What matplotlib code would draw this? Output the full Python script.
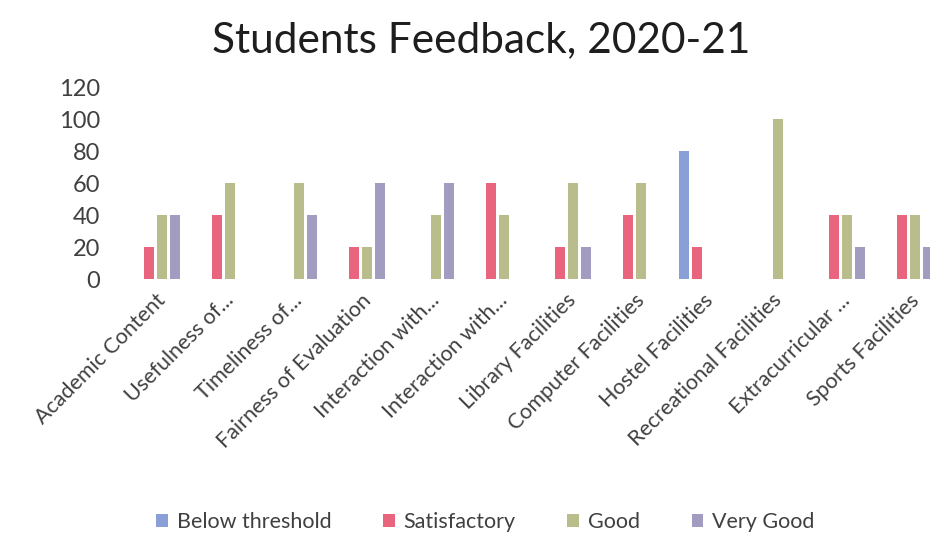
import matplotlib
matplotlib.use('Agg')
import matplotlib.pyplot as plt
import numpy as np

# ==========================================================================
#  Dati
categories = ['Academic Content', 'Usefulness of...', 'Timeliness of...',
              'Fairness of Evaluation', 'Interaction with...', 'Interaction with...',
              'Library Facilities', 'Computer Facilities', 'Hostel Facilities',
              'Recreational Facilities', 'Extracurricular ...', 'Sports Facilities']
below_threshold = [0, 0, 0, 0, 0, 0, 0, 0, 80, 0, 0, 0]
satisfactory    = [20, 40, 0, 20, 0, 60, 20, 40, 20, 0, 40, 40]
good            = [40, 60, 60, 20, 40, 40, 60, 60, 0, 100, 40, 40]
very_good       = [40, 0, 40, 60, 60, 0, 20, 0, 0, 0, 20, 20]
series_names = ['Below threshold', 'Satisfactory', 'Good', 'Very Good']
yticks = [0, 20, 40, 60, 80, 100, 120]

colors = ['#8a9fd6', '#e8657d', '#b8bd8b', '#a29cc0']
plt.rcParams['font.family'] = ['Lato', 'DejaVu Sans']

# ==========================================================================
fig = plt.figure(figsize=(9.3, 5.42), dpi=100)
# l'area del grafico esce un po' a destra (come nel riferimento)
ax = fig.add_axes([121/930, 1-279/542, 822/930, 192/542])

x = np.arange(len(categories))
slot = 0.19
width = 0.14
all_series = [below_threshold, satisfactory, good, very_good]
for k, (vals, name, c) in enumerate(zip(all_series, series_names, colors)):
    ax.bar(x + (k - 1.5)*slot, vals, width, color=c, label=name)

ax.set_xlim(-0.5, len(categories) - 0.5)
ax.set_ylim(0, 120)
ax.set_yticks(yticks)
ax.tick_params(axis='y', length=0, labelsize=17, colors='#404040', pad=15)
ax.set_xticks(x)
ax.set_xticklabels(categories, rotation=45, ha='right', rotation_mode='anchor',
                   fontsize=15.5, color='#404040')
ax.tick_params(axis='x', length=0, pad=8)
for s in ax.spines.values():
    s.set_visible(False)

fig.text(0.517, 1-40/542, 'Students Feedback, 2020-21', ha='center', va='center',
         fontsize=30.5, color='#1e1e1e')

fig.legend(loc='center', bbox_to_anchor=(0.522, 1-522/542), ncol=4, frameon=False,
           fontsize=15.5, handlelength=0.55, handleheight=0.55, handletextpad=0.4,
           columnspacing=2.4, labelcolor='#404040')

fig.savefig('out.png', dpi=100)
